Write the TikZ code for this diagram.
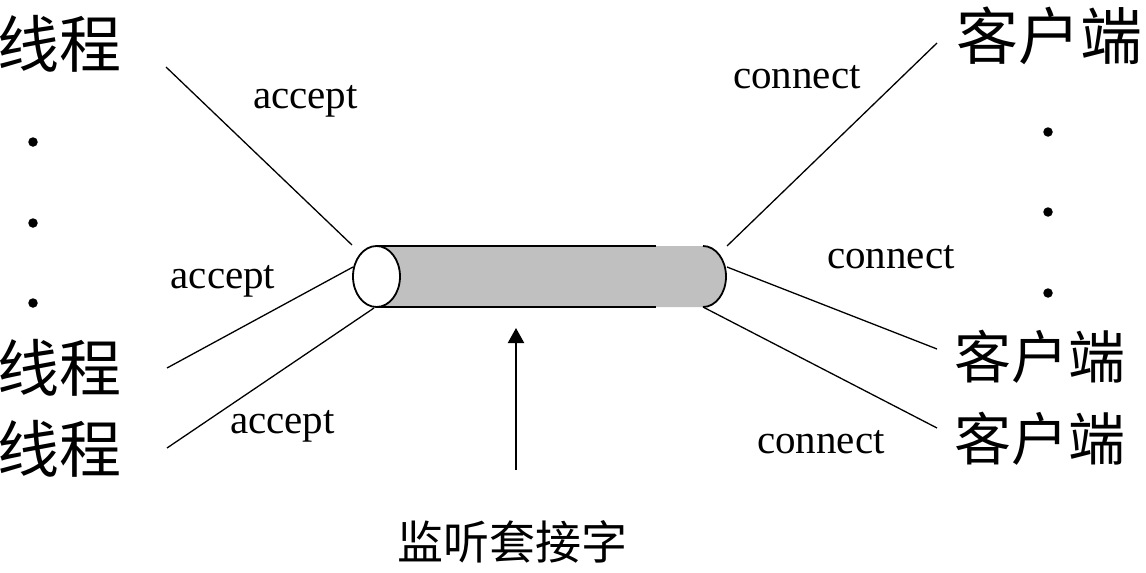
\documentclass[tikz,border=0pt]{standalone}
\usepackage{fontspec}
\setmainfont{Liberation Serif}
\newfontfamily\cjk{Noto Sans CJK SC}
\usetikzlibrary{arrows.meta}
\definecolor{cylgray}{HTML}{C0C0C0}
\begin{document}
\begin{tikzpicture}[x=1pt,y=-1pt,
  bigcjk/.style={inner sep=0pt, font=\cjk\fontsize{62}{62}\selectfont},
  midcjk/.style={inner sep=0pt, font=\cjk\fontsize{57}{57}\selectfont},
  caption/.style={inner sep=0pt, font=\cjk\fontsize{46}{46}\selectfont},
  lbl/.style={inner sep=0pt, anchor=base, font=\fontsize{41}{41}\selectfont},
  dotnode/.style={circle, fill=black, inner sep=0pt, minimum size=9.5pt},
  conn/.style={line width=1.3pt},
  cyl/.style={line width=1.8pt}]
\useasboundingbox (0,0) rectangle (1146,573);

% cylinder (listening socket)
\fill[cylgray] (376.5,246) -- (703,246) arc[start angle=-90,end angle=90,x radius=23,y radius=30.5] -- (376.5,307) -- cycle;
\draw[cyl] (376.5,246) -- (656,246);
\draw[cyl] (376.5,307) -- (656,307);
\draw[cyl] (703,246) arc[start angle=-90,end angle=90,x radius=23,y radius=30.5];
\draw[cyl, fill=white] (376.5,276.5) ellipse [x radius=23.5, y radius=30.5];

% connector end points on the cylinder
\coordinate (cL1) at (352,245);
\coordinate (cL2) at (353,267);
\coordinate (cL3) at (374,308);
\coordinate (cR1) at (727,246);
\coordinate (cR2) at (727,267);
\coordinate (cR3) at (703,307);

% threads
\node[bigcjk] (t1) at (60,43.5) {线程};
\node[bigcjk] (t2) at (60,368) {线程};
\node[bigcjk] (t3) at (60,449) {线程};
\coordinate (t1e) at (166,67);
\coordinate (t2e) at (167,368);
\coordinate (t3e) at (167,448);

% clients
\node[bigcjk] (k1) at (1049,36) {客户端};
\node[midcjk] (k2) at (1040,357) {客户端};
\node[midcjk] (k3) at (1040,439) {客户端};
\coordinate (k1e) at (937,43);
\coordinate (k2e) at (937,349);
\coordinate (k3e) at (937,428);

% dots
\node[dotnode] (dl1) at (33,142) {};
\node[dotnode] (dl2) at (33,223) {};
\node[dotnode] (dl3) at (33,303) {};
\node[dotnode] (dr1) at (1048,132) {};
\node[dotnode] (dr2) at (1048,212) {};
\node[dotnode] (dr3) at (1048,293) {};

% connectors
\draw[conn] (t1e) -- (cL1);
\draw[conn] (t2e) -- (cL2);
\draw[conn] (t3e) -- (cL3);
\draw[conn] (cR1) -- (k1e);
\draw[conn] (cR2) -- (k2e);
\draw[conn] (cR3) -- (k3e);

% labels
\node[lbl] (a1) at (305.5,108) {accept};
\node[lbl] (a2) at (223,288) {accept};
\node[lbl] (a3) at (282.5,433) {accept};
\node[lbl] (c1) at (797,88) {connect};
\node[lbl] (c2) at (891,268) {connect};
\node[lbl] (c3) at (821,453) {connect};

% arrow to the listening socket
\coordinate (arrtip) at (516,328);
\coordinate (arrbase) at (516,470);
\draw[line width=2.2pt, -{Triangle[length=15pt,width=16pt]}] (arrbase) -- (arrtip);
\node[caption] (cap) at (512,542) {监听套接字};
\end{tikzpicture}
\end{document}
